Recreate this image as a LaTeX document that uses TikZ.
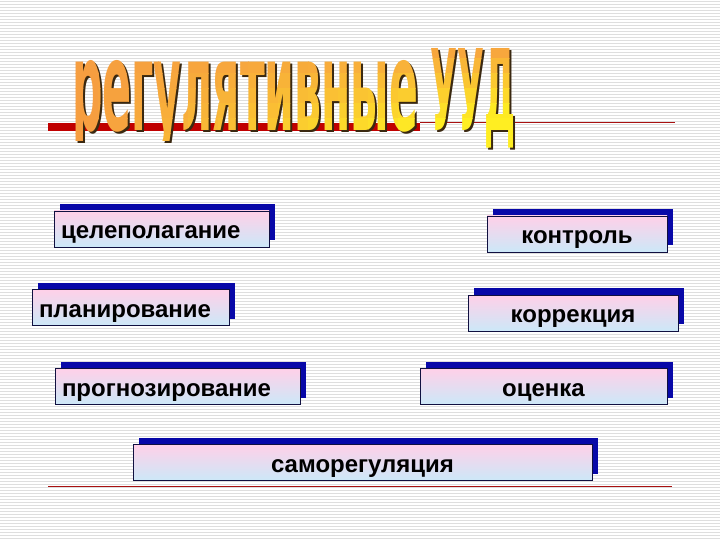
\documentclass[tikz,border=0pt]{standalone}
\usepackage{fontspec}
\usepackage{graphicx}
\setmainfont{Liberation Sans}
\newfontfamily\ttlfont{DejaVu Sans}
\usetikzlibrary{shadows}

\definecolor{pinkc}{HTML}{FFD0E8}
\definecolor{bluec}{HTML}{CCE8F8}
\definecolor{shadowblue}{HTML}{0808A8}
\definecolor{boxline}{HTML}{101040}
\definecolor{redbar}{HTML}{C00000}
\definecolor{redthin}{HTML}{A81010}
\definecolor{stripe}{HTML}{DEDEDE}
\definecolor{ttlorange}{HTML}{F69E40}
\definecolor{ttlyellow}{HTML}{FFEE22}
\definecolor{ttlshadow}{HTML}{3A2810}

\newcommand\ttlA{\resizebox{346pt}{70pt}{\ttlfont\bfseries регулятивные}}
\newcommand\ttlB{\resizebox{85pt}{82pt}{\ttlfont\bfseries УУД}}

\tikzset{
  box/.style={draw=boxline, line width=0.8pt, top color=pinkc, bottom color=bluec,
    inner xsep=7pt, inner ysep=0pt, text=black, minimum height=36pt,
    font=\fontsize{24}{28}\selectfont\bfseries,
    text height=20pt, text depth=1pt,
    copy shadow={shadow xshift=6pt, shadow yshift=7pt, fill=shadowblue, draw=none}},
  ttl/.style={anchor=base west, inner sep=0pt},
}

\begin{document}
\begin{tikzpicture}[x=1pt, y=1pt]
  \useasboundingbox (0,0) rectangle (720,-540);
  \fill[white] (0,0) rectangle (720,-540);
  \foreach \i in {0,...,179} {
    \fill[stripe] (0,-\i*3-1) rectangle (720,-\i*3-2);
  }
  % red rules
  \fill[redbar] (48,-123) rectangle (420,-131);
  \draw[redthin, line width=1.2pt] (420,-122.5) -- (675,-122.5);
  \draw[redthin, line width=1pt] (48,-486.5) -- (672,-486.5);

  % title shadow
  \begin{scope}
    \clip (0,0) rectangle (432,-143);
    \node[ttl, text=ttlshadow] (sa) at (74,-133) {\ttlA};
  \end{scope}
  \begin{scope}
    \clip (426,0) rectangle (720,-150);
    \node[ttl, text=ttlshadow] (sb) at (432,-133) {\ttlB};
  \end{scope}
  % title gradient text, drawn cell by cell
  \foreach \i in {0,...,14} {
    \foreach \j in {0,...,6} {
      \pgfmathsetmacro\xa{68+\i*30}
      \pgfmathsetmacro\xb{\xa+30}
      \pgfmathsetmacro\ya{-(44+\j*15)}
      \pgfmathsetmacro\yb{\ya-15}
      \pgfmathsetmacro\uu{\i/14}
      \pgfmathsetmacro\vv{\j/6}
      \pgfmathtruncatemacro\tp{min(100,max(0,100*(1.25*\uu*\vv+0.12*\uu)))}
      \colorlet{cellc}{ttlyellow!\tp!ttlorange}
      \begin{scope}
        \clip (\xa,\ya) rectangle (\xb,\yb);
        \begin{scope}
          \clip (0,0) rectangle (430,-141);
          \node[ttl, text=cellc] (ta-\i-\j) at (72,-131) {\ttlA};
        \end{scope}
        \begin{scope}
          \clip (426,0) rectangle (720,-148);
          \node[ttl, text=cellc] (tb-\i-\j) at (430,-131) {\ttlB};
        \end{scope}
      \end{scope}
    }
  }

  % boxes
  \node[box] (cel) at (161.5,-229) {\makebox[201pt][l]{целеполагание}};
  \node[box] (plan) at (130.5,-307.5) {\makebox[183pt][l]{планирование}};
  \node[box] (prog) at (177.5,-386.5) {\makebox[231pt][l]{прогнозирование}};
  \node[box] (kontr) at (577,-234) {\makebox[166pt][c]{контроль}};
  \node[box] (korr) at (573,-313) {\makebox[196pt][c]{коррекция}};
  \node[box] (ots) at (543.5,-386.5) {\makebox[233pt][c]{оценка}};
  \node[box] (samo) at (362.5,-462.5) {\makebox[445pt][c]{саморегуляция}};
\end{tikzpicture}
\end{document}
